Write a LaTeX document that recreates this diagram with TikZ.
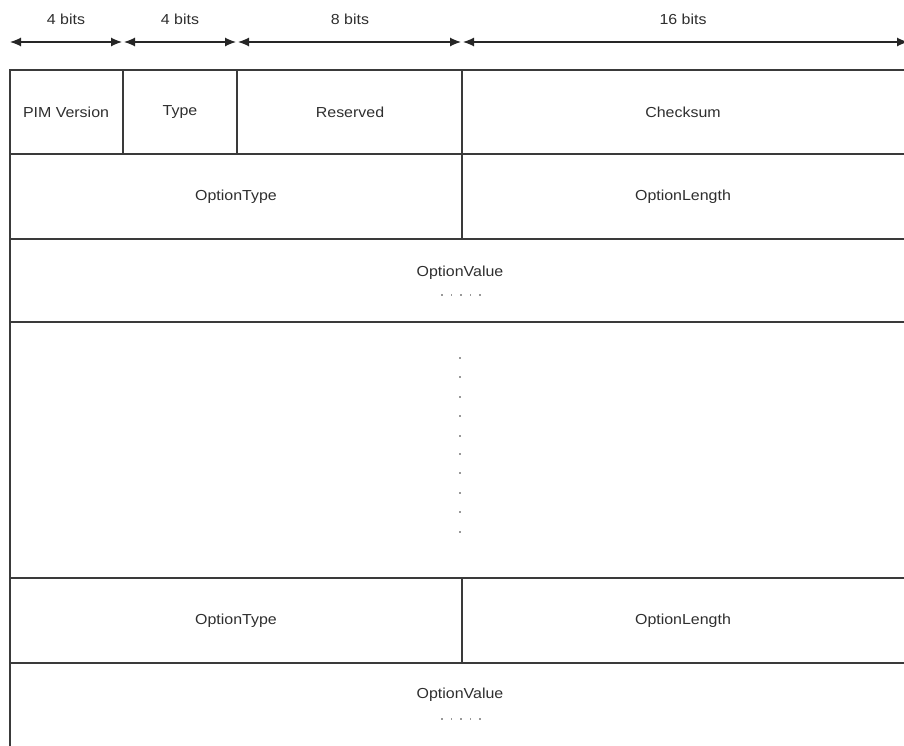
\documentclass[tikz,border=0pt]{standalone}
\usepackage{fontspec}
\setmainfont{Liberation Sans}[FakeStretch=1.1]
\usetikzlibrary{arrows.meta}
\definecolor{ln}{HTML}{3A3A3A}
\definecolor{tx}{HTML}{2E2E2E}
\tikzset{
  cell/.style={draw=ln, line width=1.2pt},
  lbl/.style={text=tx, font=\fontsize{14.5}{17}\selectfont, inner sep=0pt},
  dim/.style={draw=black!85, line width=1.2pt, {Latex[length=11pt,width=9pt]}-{Latex[length=11pt,width=9pt]}},
  dotmark/.style={fill=black!40, inner sep=0pt, minimum size=1.3pt, draw=none, shape=rectangle}
}
\begin{document}
\begin{tikzpicture}[x=1pt,y=-1pt]
\useasboundingbox (0,0) rectangle (904,745);
\begin{scope}
\clip (0,0) rectangle (904,745);
% outer frame and rows
\draw[cell] (10,770) -- (10,70) -- (920,70);
\draw[cell] (10,154) -- (920,154);
\draw[cell] (10,239) -- (920,239);
\draw[cell] (10,322) -- (920,322);
\draw[cell] (10,578) -- (920,578);
\draw[cell] (10,663) -- (920,663);
% columns
\draw[cell] (123,70) -- (123,154);
\draw[cell] (237,70) -- (237,154);
\draw[cell] (462,70) -- (462,239);
\draw[cell] (462,578) -- (462,663);
% dimension arrows
\coordinate (a0) at (10,42);
\coordinate (a1l) at (122,42);
\coordinate (a1r) at (124,42);
\coordinate (a2l) at (236,42);
\coordinate (a2r) at (238,42);
\coordinate (a3l) at (461,42);
\coordinate (a3r) at (463,42);
\coordinate (a4) at (908,42);
\draw[dim] (a0) -- (a1l);
\draw[dim] (a1r) -- (a2l);
\draw[dim] (a2r) -- (a3l);
\draw[dim] (a3r) -- (a4);
\end{scope}
\node[lbl] (b1) at (66,19) {4 bits};
\node[lbl] (b2) at (180,19) {4 bits};
\node[lbl] (b3) at (350,19) {8 bits};
\node[lbl] (b4) at (683,19) {16 bits};
\node[lbl] (pim) at (66,112) {PIM Version};
\node[lbl] (typ) at (180,112) {Type};
\node[lbl] (res) at (350,112) {Reserved};
\node[lbl] (chk) at (683,112) {Checksum};
\node[lbl] (ot1) at (236,197) {OptionType};
\node[lbl] (ol1) at (683,197) {OptionLength};
\node[lbl] (ov1) at (460,273) {OptionValue};
\node[lbl] (ot2) at (236,621) {OptionType};
\node[lbl] (ol2) at (683,621) {OptionLength};
\node[lbl] (ov2) at (460,695) {OptionValue};
\foreach \i in {0,...,4} {
  \node[dotmark] at (442+\i*9.5,295) {};
  \node[dotmark] at (442+\i*9.5,719) {};
}
\foreach \yy in {358,377,397,416,436,454,473,493,512,532} {
  \node[dotmark] at (460,\yy) {};
}
\end{tikzpicture}
\end{document}
